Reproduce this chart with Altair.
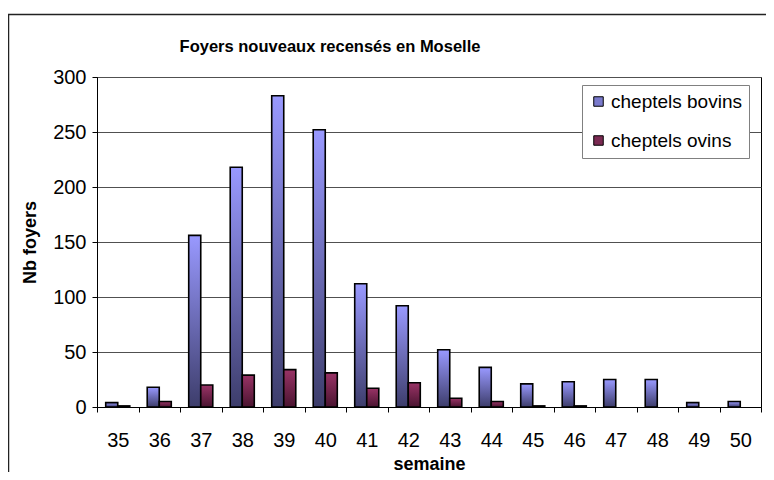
import altair as alt
import pandas as pd

weeks = list(range(35, 51))
bovins = [4, 18, 156, 218, 283, 252, 112, 92, 52, 36, 21, 23, 25, 25, 4, 5]
ovins = [1, 5, 20, 29, 34, 31, 17, 22, 8, 5, 1, 1, 0, 0, 0, 0]
series_names = ["cheptels bovins", "cheptels ovins"]
y_ticks = [0, 50, 100, 150, 200, 250, 300]

rows = []
for w, b, o in zip(weeks, bovins, ovins):
    rows.append({"semaine": w, "serie": series_names[0], "n": b, "k": 0})
    rows.append({"semaine": w, "serie": series_names[1], "n": o, "k": 1})
df = pd.DataFrame(rows)

FONT = "Liberation Sans"
W = 0.29
xscale = alt.Scale(domain=[weeks[0] - 0.5, weeks[-1] + 0.5], nice=False, zero=False)
yscale = alt.Scale(domain=[0, 300], nice=False)

yaxis = alt.Axis(values=y_ticks, title="Nb foyers", tickSize=5, labelPadding=6,
                 titlePadding=13, grid=True, titleFontSize=18)


def grad(c0, c1):
    return alt.LinearGradient(gradient="linear",
                              stops=[alt.GradientStop(color=c0, offset=0),
                                     alt.GradientStop(color=c1, offset=1)],
                              x1=0, x2=0, y1=0, y2=1)


base = alt.Chart(df).transform_filter("datum.n > 0").transform_calculate(
    x0=f"datum.semaine - {W} + datum.k * {W}",
    x1=f"datum.semaine + datum.k * {W}")

bars_b = base.transform_filter("datum.k == 0").mark_bar(
    fill=grad("#9999ff", "#3d3d6b"), stroke="black", strokeWidth=1.6
).encode(
    x=alt.X("x0:Q", scale=xscale,
            axis=alt.Axis(values=weeks, format="d", tickSize=0, labelPadding=23,
                          title="semaine", titlePadding=5, grid=False, domain=False,
                          orient="bottom", titleFontSize=18)),
    x2="x1:Q",
    y=alt.Y("n:Q", scale=yscale, axis=yaxis),
    y2=alt.datum(0),
)

bars_o = base.transform_filter("datum.k == 1").mark_bar(
    fill=grad("#993366", "#4a1430"), stroke="black", strokeWidth=1.6
).encode(
    x=alt.X("x0:Q", scale=xscale,
            axis=alt.Axis(values=[w - 0.5 for w in weeks] + [weeks[-1] + 0.5],
                          labels=False, tickSize=5, title=None, grid=False,
                          orient="bottom")),
    x2="x1:Q",
    y=alt.Y("n:Q", scale=yscale, axis=yaxis),
    y2=alt.datum(0),
)

legend_layer = alt.Chart(df).mark_square(size=0).encode(
    x=alt.X("semaine:Q", scale=xscale, axis=None),
    y=alt.Y("n:Q", scale=yscale, axis=yaxis),
    color=alt.Color("serie:N",
                    scale=alt.Scale(domain=series_names, range=["#7a7acc", "#7a2a52"]),
                    legend=alt.Legend(title=None, orient="none", legendX=485, legendY=8,
                                      strokeColor="#808080", fillColor="white",
                                      padding=7, labelFontSize=19, labelFont=FONT,
                                      labelColor="black", symbolSize=90,
                                      symbolType="square", rowPadding=19,
                                      symbolStrokeColor="black", symbolStrokeWidth=1,
                                      symbolOpacity=1, labelOffset=3)),
)

one = pd.DataFrame({"a": [0]})
top_line = alt.Chart(one).mark_rule(stroke="#222222", strokeWidth=1.5).encode(
    x=alt.value(-89), x2=alt.value(700), y=alt.value(-62.5))
left_line = alt.Chart(one).mark_rule(stroke="#222222", strokeWidth=1.5).encode(
    x=alt.value(-88.5), y=alt.value(-63), y2=alt.value(420))

title = alt.Chart(one).mark_text(
    text="Foyers nouveaux recensés en Moselle", font=FONT, fontSize=16.5,
    fontWeight="bold", align="center", baseline="alphabetic", color="black"
).encode(x=alt.value(233), y=alt.value(-25))

chart = alt.layer(top_line, left_line, bars_b, bars_o, legend_layer, title).resolve_axis(
    x="independent"
).properties(
    width=664, height=330,
    autosize=alt.AutoSizeParams(type="none"),
    padding={"left": 89, "top": 69, "right": 5, "bottom": 65},
).configure_view(
    stroke="black", strokeWidth=1
).configure_axis(
    labelFont=FONT, labelFontSize=20, labelColor="black",
    titleFont=FONT, titleFontSize=17, titleFontWeight="bold", titleColor="black",
    domainColor="black", tickColor="black", gridColor="#505050", gridWidth=1,
)

chart.save("out.html", embed_options={"renderer": "svg", "actions": False})
